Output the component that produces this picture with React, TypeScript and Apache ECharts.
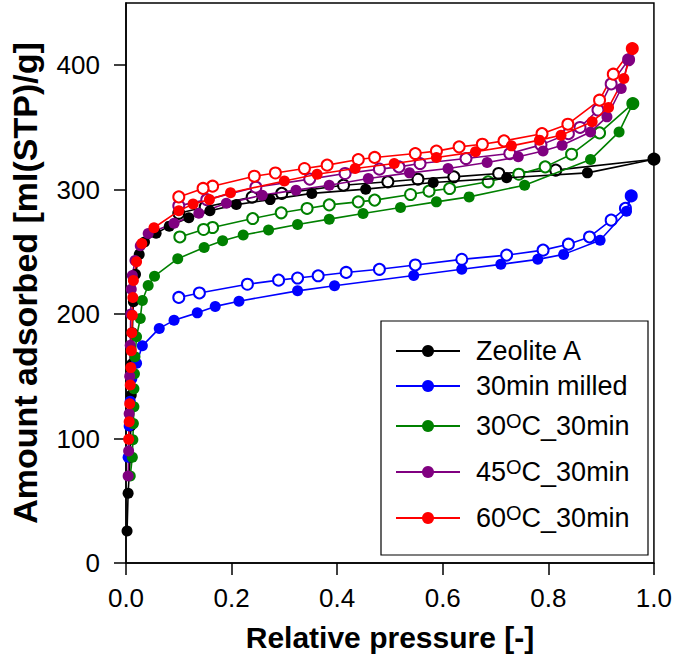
import { useEffect, useRef } from 'react';
import * as echarts from 'echarts';

const seriesNames = ['Zeolite A', '30min milled', '30OC_30min', '45OC_30min', '60OC_30min'];
const seriesColors = ['#000000', '#0000ff', '#008000', '#800080', '#ff0000'];
const legendRowCenters = [351, 386, 426, 472, 518];
const xTicks = [0, 0.2, 0.4, 0.6, 0.8, 1.0];
const yTicks = [0, 100, 200, 300, 400];

const zeoliteAds = [[0.002,25.7],[0.004,56],[0.008,85],[0.009,110],[0.010,135],[0.011,160],[0.012,185],[0.014,210],[0.018,232],[0.025,248],[0.035,258],[0.057,265],[0.082,270.7],[0.119,277.4],[0.159,283],[0.209,288],[0.273,292],[0.352,297],[0.454,300.4],[0.582,305.8],[0.721,309.5],[0.874,313.5],[1.0,324.5]];
const zeoliteDes = [[1.0,324.5],[0.814,315.7],[0.706,313],[0.621,310.3],[0.553,308.4],[0.496,306.3],[0.412,303.6],[0.295,297],[0.239,294],[0.15,286],[0.1,281]];

const milledAds = [[0.004,85],[0.006,110],[0.008,130],[0.011,148],[0.020,160.6],[0.031,174.5],[0.063,188.5],[0.091,195],[0.135,201],[0.169,206.2],[0.214,210.4],[0.325,218.7],[0.395,222.8],[0.545,231],[0.636,236],[0.71,240],[0.78,244],[0.829,248],[0.898,259.4],[0.948,282.7],[0.957,295]];
const milledDes = [[0.957,295],[0.946,285],[0.919,275.5],[0.878,262],[0.838,256.2],[0.79,251.4],[0.721,247.4],[0.636,244],[0.548,239.5],[0.48,236],[0.417,233.5],[0.364,230.8],[0.325,229],[0.289,227.3],[0.23,224],[0.139,217],[0.1,213.4]];

const c30Ads = [[0.008,70],[0.012,85],[0.013,99],[0.014,112],[0.015,125.5],[0.015,140],[0.016,152],[0.017,165.7],[0.020,181.8],[0.027,196.5],[0.031,211],[0.042,223],[0.054,230.5],[0.098,244.5],[0.148,253.6],[0.183,258.9],[0.222,263.5],[0.27,267.5],[0.325,272],[0.385,276.3],[0.449,280.9],[0.52,285.7],[0.588,290.2],[0.65,294.2],[0.755,303.6],[0.88,324.2],[0.934,346.4],[0.96,369.2]];
const c30Des = [[0.96,369.2],[0.897,345.6],[0.844,328.5],[0.794,318.3],[0.744,312.4],[0.686,306.3],[0.613,300.9],[0.574,298.8],[0.539,296.1],[0.471,291.6],[0.44,290.2],[0.385,287.8],[0.343,284.9],[0.294,281.4],[0.24,276.8],[0.164,269.6],[0.147,268],[0.102,262]];

const c45Ads = [[0.004,70],[0.005,90],[0.006,120],[0.007,150],[0.008,175],[0.009,200],[0.010,220],[0.012,231],[0.017,243],[0.027,255],[0.042,264.8],[0.091,273],[0.138,281],[0.19,289],[0.258,295.6],[0.322,299.6],[0.385,303.6],[0.459,309],[0.537,313.5],[0.61,317],[0.684,321.8],[0.743,326.4],[0.79,331],[0.826,335.7],[0.88,346.4],[0.911,358.5],[0.938,381.3],[0.952,404.4]];
const c45Des = [[0.952,404.4],[0.919,385],[0.894,364],[0.86,350],[0.838,345],[0.786,336],[0.727,329],[0.644,325],[0.557,321],[0.517,318.3],[0.48,316.5],[0.415,313],[0.348,308.5],[0.246,302],[0.153,292],[0.1,287]];

const c60Ads = [[0.005,99.4],[0.006,113.5],[0.007,128],[0.008,143],[0.009,157],[0.010,170.5],[0.011,185],[0.012,199],[0.013,213.4],[0.014,227],[0.020,242],[0.030,256.8],[0.053,269.4],[0.1,283],[0.127,288.4],[0.158,292],[0.198,297.5],[0.3,307],[0.362,312.4],[0.434,317],[0.508,321],[0.588,325.9],[0.662,330.4],[0.73,335.2],[0.783,339.8],[0.824,343.8],[0.883,354.5],[0.914,366],[0.943,389.3],[0.959,413.4]];
const c60Des = [[0.959,413.4],[0.923,392.8],[0.897,371.9],[0.837,352.6],[0.788,345],[0.716,339.2],[0.675,336.5],[0.631,334.4],[0.588,331],[0.548,329],[0.471,325.9],[0.44,324.2],[0.381,319.7],[0.338,317],[0.283,313.4],[0.243,310.8],[0.164,302.8],[0.146,301],[0.1,294.2]];

const adsorption = [zeoliteAds, milledAds, c30Ads, c45Ads, c60Ads];
const desorption = [zeoliteDes, milledDes, c30Des, c45Des, c60Des];

const FONT = "'Liberation Sans', Arial, Helvetica, sans-serif";

export default function App() {
  const ref = useRef<HTMLDivElement>(null);
  useEffect(() => {
    document.body.style.margin = '0';
    const chart = echarts.init(ref.current!, null, { renderer: 'svg' });
    const series: any[] = [];
    adsorption.forEach((d, i) => {
      series.push({
        name: seriesNames[i],
        type: 'line',
        data: d,
        symbol: 'circle',
        symbolSize: 11,
        color: seriesColors[i],
        lineStyle: { width: 1.6, color: seriesColors[i] },
        itemStyle: { color: seriesColors[i] },
        z: 3,
      });
    });
    desorption.forEach((d, i) => {
      series.push({
        name: seriesNames[i] + ' desorption',
        type: 'line',
        data: d,
        symbol: 'emptyCircle',
        symbolSize: 11,
        color: seriesColors[i],
        lineStyle: { width: 1.6, color: seriesColors[i] },
        itemStyle: { color: seriesColors[i], borderWidth: 1 },
        z: 2,
      });
    });
    const legends = seriesNames.map((name, i) => ({
      show: true,
      orient: 'vertical',
      left: 395,
      top: legendRowCenters[i] - 15,
      padding: 0,
      itemGap: 0,
      itemWidth: 64,
      itemHeight: 15,
      data: [name],
      z: 10,
      lineStyle: { width: 2 },
      textStyle: {
        fontFamily: FONT,
        fontSize: 27,
        color: '#000',
        lineHeight: 30,
        padding: [0, 0, 0, 11],
        rich: {
          s: { fontFamily: FONT, fontSize: 20, color: '#000', verticalAlign: 'top', lineHeight: 30, padding: [0, 0, 15, 0] },
        },
      },
      formatter: (n: string) => n.replace('OC', '{s|O}C'),
    }));
    chart.setOption({
      animation: false,
      backgroundColor: '#ffffff',
      grid: { left: 114, right: 21, top: 3, bottom: 105, show: true, borderColor: '#000', borderWidth: 1.5, backgroundColor: 'transparent' },
      xAxis: {
        type: 'value',
        min: 0,
        max: 1,
        interval: 0.2,
        name: 'Relative pressure [-]',
        nameLocation: 'middle',
        nameGap: 59,
        nameTextStyle: { fontFamily: FONT, fontWeight: 'bold', fontSize: 30, color: '#000' },
        axisLine: { lineStyle: { color: '#000', width: 1.5 } },
        axisTick: { inside: false, length: 12, lineStyle: { color: '#000', width: 1.5 }, customValues: xTicks },
        axisLabel: { margin: 22, fontFamily: FONT, fontSize: 26, color: '#000', customValues: xTicks, formatter: (v: number) => v.toFixed(1) },
        splitLine: { show: false },
      },
      yAxis: {
        type: 'value',
        min: 0,
        max: 450,
        interval: 100,
        name: 'Amount adsorbed [ml(STP)/g]',
        nameLocation: 'middle',
        nameGap: 84,
        nameRotate: 90,
        nameTextStyle: { fontFamily: FONT, fontWeight: 'bold', fontSize: 34, color: '#000' },
        axisLine: { lineStyle: { color: '#000', width: 1.5 } },
        axisTick: { inside: false, length: 12, lineStyle: { color: '#000', width: 1.5 }, customValues: yTicks },
        axisLabel: { margin: 26, fontFamily: FONT, fontSize: 26, color: '#000', customValues: yTicks },
        splitLine: { show: false },
      },
      legend: legends,
      graphic: [
        {
          type: 'rect',
          z: 5,
          shape: { x: 381, y: 321, width: 267, height: 234 },
          style: { fill: '#ffffff', stroke: '#000000', lineWidth: 1.2 },
        },
      ],
      series,
    });
    return () => chart.dispose();
  }, []);
  return <div ref={ref} style={{ position: 'fixed', left: 0, top: 0, width: 675, height: 668 }} />;
}
